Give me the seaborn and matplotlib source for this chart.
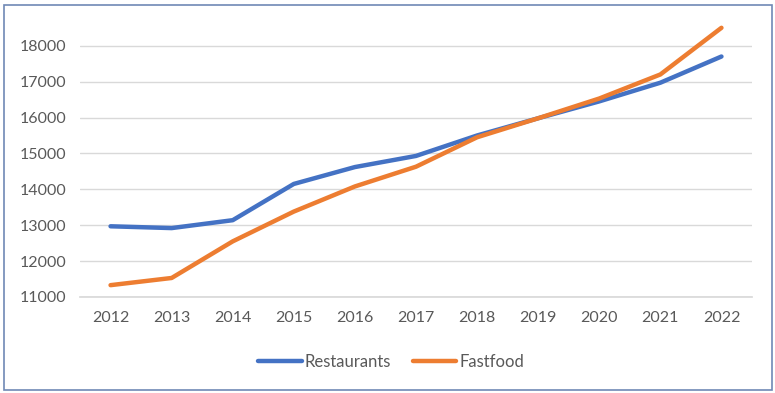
import matplotlib
matplotlib.use("Agg")
import matplotlib.pyplot as plt
import seaborn as sns
import pandas as pd
from matplotlib.patches import Rectangle
from matplotlib.lines import Line2D

years = ["2012", "2013", "2014", "2015", "2016", "2017", "2018", "2019", "2020", "2021", "2022"]
restaurants = [12970, 12920, 13140, 14150, 14620, 14930, 15500, 15980, 16450, 16970, 17700]
fastfood = [11330, 11530, 12550, 13380, 14080, 14630, 15450, 15980, 16530, 17200, 18500]
series_names = ["Restaurants", "Fastfood"]
yticks = [11000, 12000, 13000, 14000, 15000, 16000, 17000, 18000]

df = pd.DataFrame({
    "year": list(range(len(years))) * 2,
    "value": restaurants + fastfood,
    "series": [series_names[0]] * len(years) + [series_names[1]] * len(years),
})

sns.set_theme(style="white")
plt.rcParams["font.family"] = ["Lato", "DejaVu Sans"]

fig = plt.figure(figsize=(7.75, 3.93), dpi=100)
ax = fig.add_axes([80 / 775, 1 - 297 / 393, (752 - 80) / 775, (297 - 26) / 393])

palette = {"Restaurants": "#4472C4", "Fastfood": "#ED7D31"}
sns.lineplot(data=df, x="year", y="value", hue="series", palette=palette,
             linewidth=3.2, ax=ax, legend=False, solid_capstyle="round")

ax.set_xlim(-0.5, len(years) - 0.5)
ax.set_ylim(11000, 18550)
ax.set_yticks(yticks)
ax.set_yticklabels([str(v) for v in yticks])
ax.set_xticks(range(len(years)))
ax.set_xticklabels(years)
ax.yaxis.grid(True, color="#D9D9D9", linewidth=1)
ax.set_axisbelow(True)
for s in ax.spines.values():
    s.set_visible(False)
ax.spines["bottom"].set_visible(True)
ax.spines["bottom"].set_color("#D9D9D9")
ax.tick_params(axis="both", length=0, labelsize=11.5, colors="#595959")
ax.tick_params(axis="x", pad=10)
ax.tick_params(axis="y", pad=10)
ax.set_xlabel("")
ax.set_ylabel("")
for line in ax.lines:
    line.set_clip_on(False)

# Legend
handles = [Line2D([0], [0], color=palette[n], linewidth=3.2, solid_capstyle="round") for n in series_names]
leg = fig.legend(handles, series_names, loc="center", bbox_to_anchor=(0.505, 1 - 362 / 393),
                 ncol=2, frameon=False, fontsize=12, handlelength=2.6, handletextpad=0.2,
                 columnspacing=1.3)
for t in leg.get_texts():
    t.set_color("#595959")

# Outer border
fig.patches.append(Rectangle((4 / 775, 3 / 393), (772 - 4) / 775, (389 - 4) / 393,
                             transform=fig.transFigure, fill=False,
                             edgecolor="#6F89B5", linewidth=1.2))

fig.savefig("out.png", dpi=100)
